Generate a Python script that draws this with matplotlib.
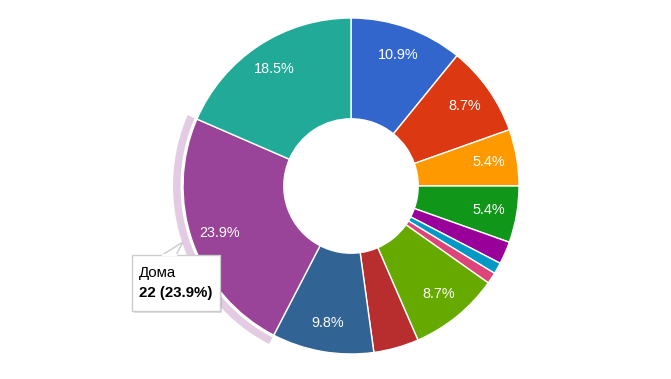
import matplotlib
matplotlib.use('Agg')
from matplotlib import pyplot as plt
from matplotlib.patches import Wedge, FancyBboxPatch, Polygon

plt.rcParams['font.family'] = ['Liberation Sans', 'DejaVu Sans']

# slice values (clockwise from top), total 92
values = [10, 8, 5, 5, 2, 1, 1, 8, 4, 9, 22, 17]
colors = ['#3366cc', '#dc3912', '#ff9900', '#109618', '#990099', '#0099c6',
          '#dd4477', '#66aa00', '#b82e2e', '#316395', '#994499', '#22aa99']
hover_index = 10
hover_name = 'Дома'

total = float(sum(values))

fig = plt.figure(figsize=(6.71, 3.79), dpi=100)
ax = fig.add_axes([0, 0, 1, 1])

cx, cy, R = 351, 379 - 186, 168

def pct_label(p):
    return '%.1f%%' % p if p > 5 else ''

wedges, texts, autotexts = ax.pie(values, colors=colors, startangle=90, counterclock=False,
                                  center=(cx, cy), radius=R, autopct=pct_label, pctdistance=0.83,
                                  wedgeprops=dict(width=R * 0.6, edgecolor='white', linewidth=1),
                                  textprops=dict(color='white', fontsize=10.4))

# pie() sets its own limits, so set the pixel frame afterwards
ax.set_xlim(0, 671)
ax.set_ylim(0, 379)
ax.set_aspect('equal')
ax.axis('off')

# hover ring round the highlighted slice
start = sum(values[:hover_index])
end = start + values[hover_index]
t1 = 90 - end / total * 360
t2 = 90 - start / total * 360
ax.add_patch(Wedge((cx, cy), R + 10, t1, t2, width=7.5, facecolor='#994499', alpha=0.27,
                   edgecolor='none'))

# tooltip
bx, by, bw, bh = 132, 379 - 311, 88, 56
ax.add_patch(FancyBboxPatch((bx + 1.5, by - 1.5), bw, bh, boxstyle='square,pad=0',
                            facecolor='#000000', alpha=0.12, edgecolor='none', zorder=5))
ax.add_patch(FancyBboxPatch((bx, by), bw, bh, boxstyle='square,pad=0',
                            facecolor='white', edgecolor='#cccccc', linewidth=1, zorder=6))
ax.add_patch(Polygon([(162, by + bh), (183, 379 - 242), (176, by + bh)], closed=True,
                     facecolor='white', edgecolor='#cccccc', linewidth=1, zorder=6))
ax.plot([162.5, 175.5], [by + bh, by + bh], color='white', linewidth=1.5, zorder=7)
pct = values[hover_index] / total * 100
ax.text(139, 379 - 273, hover_name, fontsize=10.8, color='#000000', va='center', zorder=8)
ax.text(139, 379 - 293, '%d (%.1f%%)' % (values[hover_index], pct), fontsize=10.8,
        fontweight='bold', color='#000000', va='center', zorder=8)

fig.savefig('out.png', dpi=100)
